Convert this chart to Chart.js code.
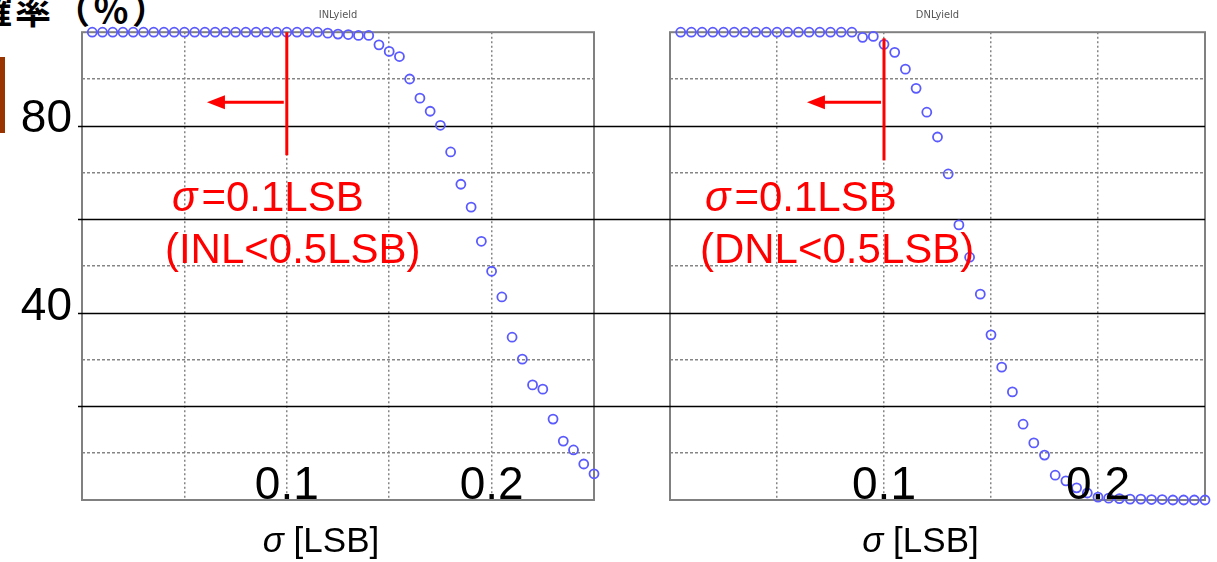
<!DOCTYPE html>
<html lang="ja">
<head>
  <meta charset="UTF-8">
  <title>INL / DNL yield</title>
  <script src="https://cdn.jsdelivr.net/npm/chart.js"></script>
  <style>
    body {
      margin: 0;
      width: 1217px;
      height: 562px;
      overflow: hidden;
      position: relative;
      background: #fff;
    }
    .y-title {
      position: absolute;
      left: -24px;
      top: -10px;
      font: bold 36px 'Noto Sans CJK JP', sans-serif;
      line-height: 36px;
      letter-spacing: 3px;
      white-space: nowrap;
      color: #000;
    }
    .accent {
      position: absolute;
      left: 0;
      top: 57px;
      width: 5px;
      height: 76px;
      background: #993300;
    }
    canvas { position: absolute; top: 0; }
    #inlChart { left: 0; }
    #dnlChart { left: 640px; }
  </style>
</head>
<body>
  <div class="y-title">確率（％）</div>
  <div class="accent"></div>
  <canvas id="inlChart" width="640" height="562"></canvas>
  <canvas id="dnlChart" width="577" height="562"></canvas>

  <script>
    // sigma steps [LSB]
    const sigma = [
      0.005, 0.010, 0.015, 0.020, 0.025, 0.030, 0.035, 0.040, 0.045, 0.050,
      0.055, 0.060, 0.065, 0.070, 0.075, 0.080, 0.085, 0.090, 0.095, 0.100,
      0.105, 0.110, 0.115, 0.120, 0.125, 0.130, 0.135, 0.140, 0.145, 0.150,
      0.155, 0.160, 0.165, 0.170, 0.175, 0.180, 0.185, 0.190, 0.195, 0.200,
      0.205, 0.210, 0.215, 0.220, 0.225, 0.230, 0.235, 0.240, 0.245, 0.250
    ];

    // yield [%] for INL < 0.5LSB
    const inlYield = [
      100, 100, 100, 100, 100, 100, 100, 100, 100, 100,
      100, 100, 100, 100, 100, 100, 100, 100, 100, 100,
      100, 100, 100, 99.8, 99.6, 99.5, 99.3, 99.3, 97.3, 95.9,
      94.8, 90.0, 85.9, 83.1, 80.1, 74.4, 67.5, 62.6, 55.3, 48.9,
      43.4, 34.8, 30.1, 24.6, 23.7, 17.3, 12.6, 10.7, 7.7, 5.6
    ];

    // yield [%] for DNL < 0.5LSB
    const dnlYield = [
      100, 100, 100, 100, 100, 100, 100, 100, 100, 100,
      100, 100, 100, 100, 100, 100, 100, 98.9, 99.1, 97.4,
      95.7, 92.1, 88.0, 82.9, 77.6, 69.7, 58.8, 51.9, 44.0, 35.3,
      28.4, 23.1, 16.2, 12.2, 9.6, 5.3, 4.1, 2.6, 1.5, 0.6,
      0.4, 0.3, 0.2, 0.2, 0.1, 0.1, 0, 0, 0, 0
    ];

    const yLevels = [20, 40, 60, 80];   // solid guide lines
    const yLabels = [80, 40];
    const xLabels = [0.1, 0.2];

    const RED = '#ff0000';
    const GRID = '#858585';
    const SANS = "'Liberation Sans', Arial, sans-serif";

    // frame, guide lines, red markers and big labels
    const overlay = {
      id: 'overlay',
      beforeDatasetsDraw(chart, args, opts) {
        const { ctx, chartArea: a, scales: { y } } = chart;
        ctx.save();
        ctx.strokeStyle = '#808080';
        ctx.lineWidth = 2;
        ctx.strokeRect(a.left, a.top, a.right - a.left, a.bottom - a.top);

        const from = opts.toLeftEdge ? 0 : a.left - 4;
        const to = opts.toRightEdge ? chart.width : a.right;
        ctx.strokeStyle = '#000';
        ctx.lineWidth = 1.6;
        yLevels.forEach(v => {
          const py = Math.round(y.getPixelForValue(v)) + 0.5;
          ctx.beginPath();
          ctx.moveTo(from, py);
          ctx.lineTo(to, py);
          ctx.stroke();
        });

        // level numbers on the left plot only
        if (opts.levelLabels) {
          ctx.fillStyle = '#000';
          ctx.font = '46px ' + SANS;
          ctx.textAlign = 'right';
          ctx.textBaseline = 'middle';
          yLabels.forEach(v => {
            ctx.fillText(String(v), a.left - 10, y.getPixelForValue(v) - 6);
          });
        }
        ctx.restore();
      },
      afterDraw(chart, args, opts) {
        const { ctx, chartArea: a, scales: { x, y } } = chart;
        const m = opts.mark;
        ctx.save();

        // threshold line and arrow
        ctx.strokeStyle = RED;
        ctx.fillStyle = RED;
        ctx.lineWidth = 3;
        const mx = x.getPixelForValue(m.sigma);
        ctx.beginPath();
        ctx.moveTo(mx, y.getPixelForValue(m.from));
        ctx.lineTo(mx, y.getPixelForValue(m.to));
        ctx.stroke();

        const ay = y.getPixelForValue(m.arrowAt);
        const tip = x.getPixelForValue(m.arrowTo);
        ctx.beginPath();
        ctx.moveTo(mx - 3, ay);
        ctx.lineTo(tip + 14, ay);
        ctx.stroke();
        ctx.beginPath();
        ctx.moveTo(tip, ay);
        ctx.lineTo(tip + 18, ay - 7);
        ctx.lineTo(tip + 18, ay + 7);
        ctx.closePath();
        ctx.fill();

        // red notes
        ctx.textBaseline = 'alphabetic';
        ctx.textAlign = 'left';
        let tx = x.getPixelForValue(m.labelAt[0]);
        const ty = y.getPixelForValue(m.labelAt[1]);
        ctx.font = 'italic 42px ' + SANS;
        ctx.fillText('σ', tx, ty);
        tx += ctx.measureText('σ').width + 4;
        ctx.font = '42px ' + SANS;
        ctx.fillText(m.label, tx, ty);
        ctx.fillText(m.note, x.getPixelForValue(m.noteAt[0]), y.getPixelForValue(m.noteAt[1]));

        // big x labels inside the plot
        ctx.fillStyle = '#000';
        ctx.textAlign = 'center';
        ctx.font = '46px ' + SANS;
        xLabels.forEach(v => {
          ctx.fillText(String(v), x.getPixelForValue(v), a.bottom - 1);
        });

        // axis caption below
        ctx.textAlign = 'left';
        ctx.font = 'italic 35px ' + SANS;
        const sw = ctx.measureText('σ').width;
        ctx.font = '35px ' + SANS;
        const rest = ' [LSB]';
        const total = sw + ctx.measureText(rest).width;
        const cx = (a.left + a.right) / 2 - total / 2 - 17;
        ctx.font = 'italic 35px ' + SANS;
        ctx.fillText('σ', cx, a.bottom + 52);
        ctx.font = '35px ' + SANS;
        ctx.fillText(rest, cx + sw, a.bottom + 52);

        ctx.restore();
      }
    };

    function makeChart(id, title, values, cfg) {
      return new Chart(document.getElementById(id), {
        type: 'scatter',
        data: {
          datasets: [{
            data: sigma.map((s, i) => ({ x: s, y: values[i] })),
            pointStyle: 'circle',
            pointRadius: 4.5,
            pointHoverRadius: 4.5,
            borderColor: '#5a5aff',
            backgroundColor: 'rgba(0,0,0,0)',
            borderWidth: 1.8,
            clip: false
          }]
        },
        options: {
          responsive: false,
          animation: false,
          events: [],
          layout: { padding: cfg.padding },
          plugins: {
            legend: { display: false },
            tooltip: { enabled: false },
            title: {
              display: true,
              text: title,
              fullSize: false,
              color: '#555',
              font: { size: 11, family: "'DejaVu Sans Condensed', 'DejaVu Sans', sans-serif", weight: 'normal' },
              padding: { top: 9, bottom: 10 }
            },
            overlay: cfg.overlay
          },
          scales: {
            x: {
              type: 'linear',
              min: 0,
              max: 0.25,
              ticks: { stepSize: 0.05, display: false },
              grid: { color: GRID, lineWidth: 1.5, drawTicks: false },
              border: { display: false, dash: [2, 2.5] },
              afterFit: s => { s.height = 0; }
            },
            y: {
              min: 0,
              max: 100,
              ticks: { stepSize: 10, autoSkip: false, display: false },
              grid: {
                color: c => (c.tick && c.tick.value % 20 === 10) ? GRID : 'rgba(0,0,0,0)',
                lineWidth: 1.5,
                drawTicks: false
              },
              border: { display: false, dash: [3, 2] },
              afterFit: s => { s.width = cfg.axisWidth; }
            }
          }
        },
        plugins: [overlay]
      });
    }

    makeChart('inlChart', 'INLyield', inlYield, {
      padding: { left: 0, right: 46, top: 0, bottom: 62 },
      axisWidth: 82,
      overlay: {
        toLeftEdge: false,
        toRightEdge: true,
        levelLabels: true,
        mark: {
          sigma: 0.1, from: 100, to: 73.7, arrowAt: 85, arrowTo: 0.061,
          label: '=0.1LSB', labelAt: [0.044, 61.7],
          note: '(INL<0.5LSB)', noteAt: [0.0405, 50.6]
        }
      }
    });

    makeChart('dnlChart', 'DNLyield', dnlYield, {
      padding: { left: 0, right: 12, top: 0, bottom: 62 },
      axisWidth: 30,
      overlay: {
        toLeftEdge: true,
        toRightEdge: false,
        levelLabels: false,
        mark: {
          sigma: 0.1, from: 98.7, to: 72.6, arrowAt: 85, arrowTo: 0.064,
          label: '=0.1LSB', labelAt: [0.0164, 61.7],
          note: '(DNL<0.5LSB)', noteAt: [0.014, 50.6]
        }
      }
    });
  </script>
</body>
</html>
